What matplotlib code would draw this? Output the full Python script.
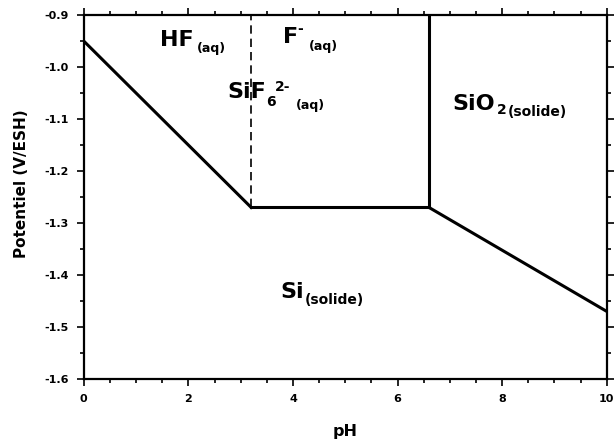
import numpy as np
import matplotlib
matplotlib.use("Agg")
import matplotlib.pyplot as plt
from matplotlib.ticker import MultipleLocator, FormatStrFormatter

plt.rcParams["font.family"] = ["DejaVu Sans"]
plt.rcParams["font.weight"] = "bold"

# frontières du diagramme (pH, potentiel V/ESH)
hf_si_ph = [0.0, 3.2]
hf_si_e = [-0.95, -1.27]
f_si_ph = [3.2, 6.6]
f_si_e = [-1.27, -1.27]
sio2_si_ph = [6.6, 10.0]
sio2_si_e = [-1.27, -1.47]
dashed_ph = [3.2, 3.2]
dashed_e = [-1.27, -0.9]
sio2_f_ph = [6.6, 6.6]
sio2_f_e = [-1.27, -0.9]

# étiquettes des domaines : (texte, taille, décalage x px, décalage y px)
label_ph = [1.45, 3.80, 2.75, 7.05, 3.76]
label_e = [-0.960, -0.954, -1.060, -1.083, -1.444]
label_parts = [
    [("HF", 16, 0, 0), ("(aq)", 9, 37, -6)],
    [("F", 16, 0, 0), ("-", 10, 15, 10), ("(aq)", 9, 26, -7)],
    [("SiF", 16, 0, 0), ("6", 10, 39, -8), ("2-", 10, 47, 7), ("(aq)", 9, 68, -11)],
    [("SiO", 16, 0, 0), ("2", 10, 44, -4), ("(solide)", 10, 55, -6)],
    [("Si", 16, 0, 0), ("(solide)", 10, 24, -6)],
]

fig = plt.figure(figsize=(6.16, 4.43), dpi=100)
ax = fig.add_axes([0.136, 0.1445, 0.849, 0.8215])

lw = 2.2
ax.plot(hf_si_ph, hf_si_e, color="black", lw=lw)
ax.plot(f_si_ph, f_si_e, color="black", lw=lw)
ax.plot(sio2_si_ph, sio2_si_e, color="black", lw=lw)
ax.plot(sio2_f_ph, sio2_f_e, color="black", lw=lw)
ax.plot(dashed_ph, dashed_e, color="black", lw=1.2, ls=(0, (5, 3)))

for x, y, parts in zip(label_ph, label_e, label_parts):
    for txt, size, dx, dy in parts:
        ax.annotate(txt, xy=(x, y), xytext=(dx, dy), textcoords="offset pixels",
                    fontsize=size, fontweight="bold", ha="left", va="baseline")

ax.set_xlim(0, 10)
ax.set_ylim(-1.6, -0.9)
ax.xaxis.set_major_locator(MultipleLocator(2))
ax.xaxis.set_minor_locator(MultipleLocator(0.5))
ax.yaxis.set_major_locator(MultipleLocator(0.1))
ax.yaxis.set_minor_locator(MultipleLocator(0.05))
ax.yaxis.set_major_formatter(FormatStrFormatter("%.1f"))
ax.tick_params(which="both", direction="out", top=True, right=True,
               labeltop=False, labelright=False, width=1.2)
ax.tick_params(which="major", length=5, labelsize=8, pad=6)
ax.tick_params(which="minor", length=3)
for s in ax.spines.values():
    s.set_linewidth(1.6)

ax.set_xlabel("pH", fontsize=11.5, fontweight="bold")
ax.xaxis.set_label_coords(0.5, -0.125)
ax.set_ylabel("Potentiel (V/ESH)", fontsize=11, fontweight="bold")
ax.yaxis.set_label_coords(-0.105, 0.538)

fig.savefig("out.png", dpi=100)
